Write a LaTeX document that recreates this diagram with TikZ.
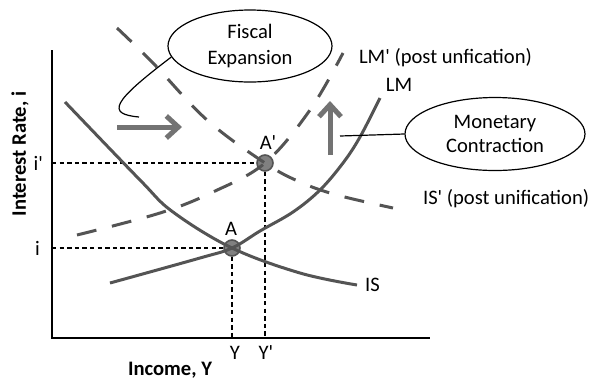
\documentclass[tikz,border=0pt]{standalone}
\usepackage{fontspec}
\setmainfont{Carlito}[Ligatures=TeXOff]
\usetikzlibrary{arrows.meta,shapes.geometric}
\definecolor{curvegray}{gray}{0.33}
\definecolor{shiftgray}{gray}{0.45}
\definecolor{dotgray}{gray}{0.5}
\begin{document}
\begin{tikzpicture}[x=0.5pt, y=-0.5pt,
  every node/.style={font=\fontsize{10.3}{13}\selectfont},
  curve/.style={line width=1.5pt, curvegray},
  shifted/.style={curve, dash pattern=on 10pt off 8pt},
  guide/.style={line width=0.6pt, dash pattern=on 2.2pt off 1.6pt},
  bubble/.style={draw, ellipse, line width=0.6pt, inner sep=0pt, align=center},
  eqdot/.style={circle, draw=curvegray, fill=dotgray, line width=0.8pt, minimum size=8pt, inner sep=0pt},
  movearrow/.style={line width=2.5pt, shiftgray, -{Straight Barb[length=6pt, width=11pt]}}]
\useasboundingbox (0,0) rectangle (595,387);
% axes
\draw[line width=0.75pt] (52,50) -- (52,338) -- (430,338);
\node[rotate=90, font=\fontsize{10.3}{13}\selectfont\bfseries] (ylab) at (20,154) {Interest Rate, i};
\node[font=\fontsize{10.3}{13}\selectfont\bfseries] (xlab) at (170,370) {Income, Y};
% equilibria
\node[eqdot] (A) at (232,248) {};
\node[eqdot] (Ap) at (265,163) {};
\node (Alab) at (231,229) {A};
\node (Aplab) at (268,143) {A'};
\node[anchor=east] (ilab) at (47,248) {i};
\node[anchor=east] (iplab) at (50,163) {i'};
\node (Ylab) at (235,353) {Y};
\node (Yplab) at (266,353) {Y'};
\draw[guide] (52,248) -- (A);
\draw[guide] (52,163) -- (Ap);
\draw[guide] (A) -- (A |- 0,338);
\draw[guide] (Ap) -- (Ap |- 0,338);
% IS and LM
\draw[curve] plot[smooth, tension=0.6] coordinates {(65,102) (140,180) (173,212) (232,248) (300,273) (357,285)};
\draw[curve] plot[smooth, tension=0.6] coordinates {(110,283) (200,258) (232,248) (260,231) (293,212) (320,190) (343,163) (360,137) (380,98)};
% post unification curves
\draw[shifted] plot[smooth, tension=0.6] coordinates {(117,28) (153,63) (207,120) (265,163) (300,182) (337,195) (393,208)};
\draw[shifted] plot[smooth, tension=0.6] coordinates {(77,235) (160,213) (213,192) (265,163) (310,110) (343,53)};
\node[anchor=west] (ISlab) at (358,285) {IS};
\node (LMlab) at (399,85) {LM};
\node[anchor=west] (LMplab) at (352,58) {LM' (post unfication)};
\node[anchor=west] (ISplab) at (416,199) {IS' (post unification)};
% policy shifts
\coordinate (fstart) at (117,127);
\coordinate (fend) at (182,127);
\draw[movearrow] (fstart) -- (fend);
\coordinate (mstart) at (330,155);
\coordinate (mend) at (330,101);
\draw[movearrow] (mstart) -- (mend);
% callouts
\node[bubble, minimum width=82pt, minimum height=36pt] (fiscal) at (250,46) {Fiscal\\Expansion};
\node[bubble, minimum width=90pt, minimum height=36.5pt, font=\fontsize{10.3}{12}\selectfont] (monetary) at (495,134) {Monetary\\Contraction};
\coordinate (ftip) at (139,117);
\coordinate (mtip) at (340,136);
\draw[line width=0.6pt] (fiscal.188) .. controls (112,102) and (106,114) .. (ftip);
\draw[line width=0.6pt] (monetary.west) -- (mtip);
\end{tikzpicture}
\end{document}
